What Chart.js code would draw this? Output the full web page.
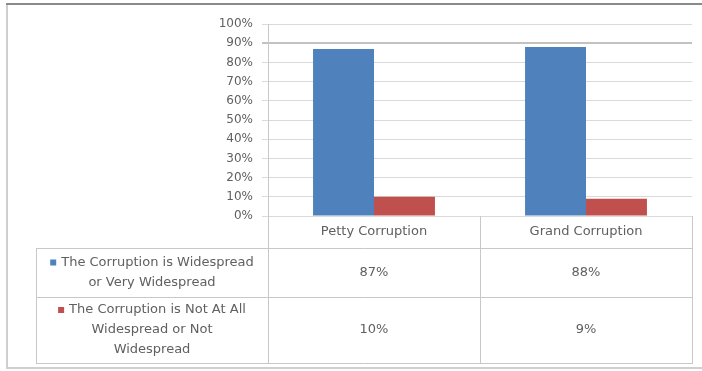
<!DOCTYPE html>
<html>
<head>
<meta charset="utf-8">
<script src="https://cdn.jsdelivr.net/npm/chart.js@4"></script>
<style>
  html, body { margin: 0; padding: 0; background: #fff; }
  #wrap { width: 702px; height: 371px; }
</style>
</head>
<body>
<div id="wrap"><canvas id="corruptionChart" width="702" height="371"></canvas></div>
<script>
const categories = ['Petty Corruption', 'Grand Corruption'];
const widespread = [87, 88];
const notWidespread = [10, 9];
const seriesNames = [
  ['The Corruption is Widespread', 'or Very Widespread'],
  ['The Corruption is Not At All', 'Widespread or Not', 'Widespread']
];
const seriesColors = ['#4F81BD', '#C0504D'];

const textColor = '#606060';
const fontFamily = '"DejaVu Sans", "Liberation Sans", sans-serif';
const font = '13px ' + fontFamily;

// table rows under the plot: top of row, bottom of row
const tableLeft = 36;
const rowLines = [216, 248, 297, 363];

const frame = {
  id: 'frame',
  beforeDraw(chart) {
    const c = chart.ctx;
    c.save();
    c.fillStyle = '#fff';
    c.fillRect(0, 0, chart.width, chart.height);
    c.strokeStyle = '#cfcfcf';
    c.lineWidth = 2;
    c.beginPath();
    c.moveTo(7, 5); c.lineTo(7, 368); c.lineTo(702, 368);
    c.stroke();
    c.strokeStyle = '#8a8a8a';
    c.beginPath();
    c.moveTo(6, 4); c.lineTo(702, 4);
    c.stroke();
    c.restore();
  }
};

const dataTable = {
  id: 'dataTable',
  afterDraw(chart) {
    const c = chart.ctx;
    const x = chart.scales.x;
    const area = chart.chartArea;
    const mid = (x.getPixelForValue(0) + x.getPixelForValue(1)) / 2;
    c.save();
    c.strokeStyle = '#c8c8c8';
    c.lineWidth = 1;
    c.beginPath();
    // column borders
    [area.left, mid, area.right].forEach(px => {
      c.moveTo(Math.round(px) + 0.5, rowLines[0]);
      c.lineTo(Math.round(px) + 0.5, rowLines[3]);
    });
    c.moveTo(tableLeft + 0.5, rowLines[1]);
    c.lineTo(tableLeft + 0.5, rowLines[3]);
    // row borders
    for (let i = 1; i < rowLines.length; i++) {
      c.moveTo(tableLeft, rowLines[i] + 0.5);
      c.lineTo(area.right + 1, rowLines[i] + 0.5);
    }
    c.stroke();

    c.font = font;
    c.fillStyle = textColor;
    c.textAlign = 'center';
    c.textBaseline = 'middle';
    categories.forEach((cat, i) => {
      c.fillText(cat, x.getPixelForValue(i), (rowLines[0] + rowLines[1]) / 2);
    });

    const rows = [widespread, notWidespread];
    const lineH = 20;
    const colMid = (tableLeft + area.left) / 2;
    rows.forEach((vals, r) => {
      const yMid = (rowLines[r + 1] + rowLines[r + 2]) / 2;
      vals.forEach((v, i) => {
        c.fillStyle = textColor;
        c.textAlign = 'center';
        c.fillText(v + '%', x.getPixelForValue(i), yMid);
      });
      const lines = seriesNames[r];
      const y0 = yMid - (lines.length - 1) * lineH / 2;
      lines.forEach((t, k) => {
        const y = y0 + k * lineH;
        if (k === 0) {
          const w = c.measureText(t).width + 11;
          const sx = colMid - w / 2;
          c.fillStyle = seriesColors[r];
          c.fillRect(sx, y - 3, 6, 6);
          c.fillStyle = textColor;
          c.textAlign = 'left';
          c.fillText(t, sx + 11, y);
        } else {
          c.fillStyle = textColor;
          c.textAlign = 'center';
          c.fillText(t, colMid, y);
        }
      });
    });
    c.restore();
  }
};

new Chart(document.getElementById('corruptionChart'), {
  type: 'bar',
  data: {
    labels: categories,
    datasets: [
      { label: seriesNames[0].join(' '), data: widespread, backgroundColor: seriesColors[0] },
      { label: seriesNames[1].join(' '), data: notWidespread, backgroundColor: seriesColors[1] }
    ]
  },
  options: {
    responsive: false,
    animation: false,
    layout: { padding: { left: 0, top: 24, right: 10, bottom: 155 } },
    datasets: { bar: { categoryPercentage: 0.575, barPercentage: 1 } },
    plugins: { legend: { display: false }, tooltip: { enabled: false } },
    scales: {
      x: { display: false },
      y: {
        min: 0,
        max: 100,
        afterFit(scale) { scale.width = 268; },
        ticks: {
          stepSize: 10,
          padding: 9,
          color: textColor,
          font: { family: fontFamily, size: 12 },
          callback: v => v + '%'
        },
        grid: {
          tickLength: 6,
          color: ctx => ctx.tick && ctx.tick.value === 90 ? '#c2c2c2' : '#dadada',
          lineWidth: ctx => ctx.tick && ctx.tick.value === 90 ? 2 : 1
        },
        border: { color: '#c8c8c8' }
      }
    }
  },
  plugins: [frame, dataTable]
});
</script>
</body>
</html>
